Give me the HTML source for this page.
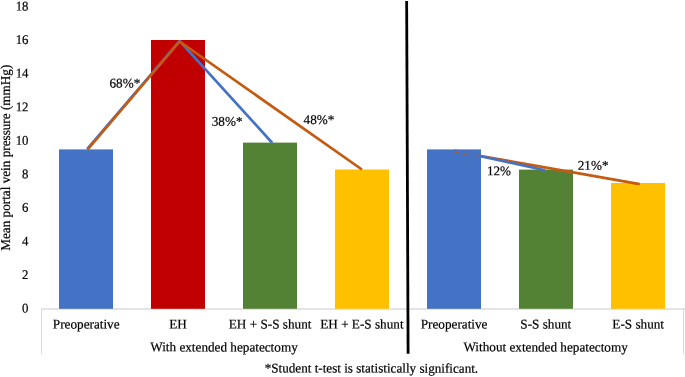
<!DOCTYPE html>
<html><head><meta charset="utf-8">
<style>
html,body{margin:0;padding:0;background:#fff;}
svg{display:block;}
text{font-family:"Liberation Serif","Times New Roman",serif;font-size:13.33px;fill:#000;text-rendering:geometricPrecision;stroke:#000;stroke-width:0.2px;}
</style></head>
<body>
<svg width="685" height="377" viewBox="0 0 685 377">
<rect width="685" height="377" fill="#fff"/>
<path d="M41 309H685" stroke="#E4E4E4" stroke-width="1.8" fill="none"/>
<g stroke="#DCDCDC" stroke-width="1" fill="none">
<path d="M41.5 308.5V354.5"/>
<path d="M683.5 308.5V354.5"/>
</g>
<rect x="59" y="149.4" width="54" height="159.4" fill="#4472C4"/>
<rect x="151" y="40" width="54" height="268.8" fill="#C00000"/>
<rect x="243" y="142.6" width="54" height="166.2" fill="#548235"/>
<rect x="335" y="169.5" width="54" height="139.3" fill="#FFC000"/>
<rect x="427" y="149.4" width="54" height="159.4" fill="#4472C4"/>
<rect x="519" y="169.6" width="54" height="139.2" fill="#548235"/>
<rect x="611" y="183" width="54" height="125.8" fill="#FFC000"/>
<g fill="none" stroke-width="2.7" stroke-linejoin="miter" stroke-linecap="butt">
<polyline points="87.1,149.2 179.3,41.4 180.2,41.6 272.3,143" stroke="#4472C4" stroke-linejoin="round"/>
<polyline points="87.7,149.5 179.6,41.5 361.9,169.5" stroke="#C55A11"/>
<polyline points="454.9,151.45 639.7,184.1" stroke="#C55A11" stroke-width="2.6"/>
<polyline points="454.5,150.5 545,170.3" stroke="#4472C4" stroke-width="2.6"/>
</g>
<line x1="406.65" y1="1" x2="408.1" y2="353.8" stroke="#000" stroke-width="2.8"/>

<text transform="translate(28.5 10.5) rotate(0.03) scale(0.96 1)" text-anchor="end">18</text>
<text transform="translate(28.5 44.06) rotate(0.03) scale(0.96 1)" text-anchor="end">16</text>
<text transform="translate(28.5 77.62) rotate(0.03) scale(0.96 1)" text-anchor="end">14</text>
<text transform="translate(28.5 111.18) rotate(0.03) scale(0.96 1)" text-anchor="end">12</text>
<text transform="translate(28.5 144.74) rotate(0.03) scale(0.96 1)" text-anchor="end">10</text>
<text transform="translate(28.5 178.3) rotate(0.03) scale(0.96 1)" text-anchor="end">8</text>
<text transform="translate(28.5 211.86) rotate(0.03) scale(0.96 1)" text-anchor="end">6</text>
<text transform="translate(28.5 245.42) rotate(0.03) scale(0.96 1)" text-anchor="end">4</text>
<text transform="translate(28.5 278.98) rotate(0.03) scale(0.96 1)" text-anchor="end">2</text>
<text transform="translate(28.5 312.54) rotate(0.03) scale(0.96 1)" text-anchor="end">0</text>
<text transform="translate(10.2 157.7) rotate(-90) scale(0.99 1.02)" text-anchor="middle" style="font-size:13.33px">Mean portal vein pressure (mmHg)</text>
<text transform="translate(109.5 87.6) rotate(0.03) scale(0.99 1)" text-anchor="start">68%*</text>
<text transform="translate(211.7 125.8) rotate(0.03) scale(0.99 1)" text-anchor="start">38%*</text>
<text transform="translate(303.6 124.1) rotate(0.03) scale(0.99 1)" text-anchor="start">48%*</text>
<text transform="translate(486.9 175.2) rotate(0.03) scale(0.99 1)" text-anchor="start">12%</text>
<text transform="translate(577.7 169.8) rotate(0.03) scale(0.99 1)" text-anchor="start">21%*</text>
<text transform="translate(86.2 328.6) rotate(0.03) scale(0.99 1)" text-anchor="middle">Preoperative</text>
<text transform="translate(178 328.6) rotate(0.03) scale(0.99 1)" text-anchor="middle">EH</text>
<text transform="translate(270.1 328.6) rotate(0.03) scale(0.99 1)" text-anchor="middle">EH + S-S shunt</text>
<text transform="translate(361.9 328.6) rotate(0.03) scale(0.99 1)" text-anchor="middle">EH + E-S shunt</text>
<text transform="translate(454.1 328.6) rotate(0.03) scale(0.99 1)" text-anchor="middle">Preoperative</text>
<text transform="translate(545.8 328.6) rotate(0.03) scale(0.99 1)" text-anchor="middle">S-S shunt</text>
<text transform="translate(638.2 328.6) rotate(0.03) scale(0.99 1)" text-anchor="middle">E-S shunt</text>
<text transform="translate(224 351.4) rotate(0.03) scale(0.99 1)" text-anchor="middle">With extended hepatectomy</text>
<text transform="translate(545.6 351.4) rotate(0.03) scale(0.99 1)" text-anchor="middle">Without extended hepatectomy</text>
<text transform="translate(371.4 372.6) rotate(0.03) scale(0.986 1)" text-anchor="middle">*Student t-test is statistically significant.</text>
</svg>
</body></html>
